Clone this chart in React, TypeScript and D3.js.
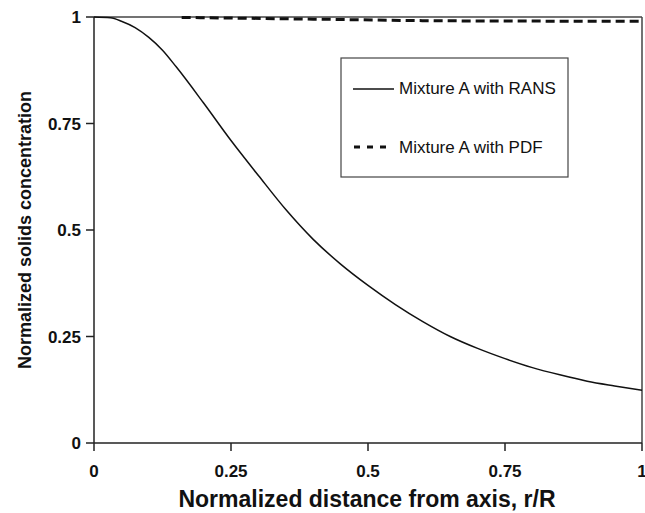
import React from "react";
import * as d3 from "d3";

const ransX = [0, 0.03, 0.05, 0.075, 0.1, 0.125, 0.15, 0.2, 0.25, 0.3, 0.35, 0.4, 0.45, 0.5, 0.55, 0.6, 0.65, 0.7, 0.75, 0.8, 0.85, 0.9, 0.95, 1.0];
const ransY = [1, 0.998, 0.99, 0.975, 0.952, 0.922, 0.883, 0.798, 0.71, 0.628, 0.548, 0.478, 0.42, 0.37, 0.325, 0.285, 0.25, 0.222, 0.198, 0.177, 0.16, 0.145, 0.134, 0.124];
const pdfX = [0.16, 0.4, 0.65, 1.0];
const pdfY = [0.999, 0.995, 0.991, 0.99];
const xTicks = [0, 0.25, 0.5, 0.75, 1];
const yTicks = [0, 0.25, 0.5, 0.75, 1];
const xTickLabels = ["0", "0.25", "0.5", "0.75", "1"];
const yTickLabels = ["0", "0.25", "0.5", "0.75", "1"];
const legendLabels = ["Mixture A with RANS", "Mixture A with PDF"];

const W = 645, H = 513;
const L = 94, R = 642, T = 17, B = 443;
const font = "Arial, 'Liberation Sans', sans-serif";

export default function App() {
  const x = d3.scaleLinear().domain([0, 1]).range([L, R]);
  const y = d3.scaleLinear().domain([0, 1]).range([B, T]);
  const line = d3.line<[number, number]>().x(d => x(d[0])).y(d => y(d[1])).curve(d3.curveMonotoneX);
  const rans = ransX.map((v, i) => [v, ransY[i]] as [number, number]);
  const pdf = pdfX.map((v, i) => [v, pdfY[i]] as [number, number]);
  return (
    <svg width={W} height={H} style={{ position: "absolute", left: 0, top: 0 }}>
      <rect x={0} y={0} width={W} height={H} fill="#fff" />
      <line x1={L} x2={R} y1={T} y2={T} stroke="#444" strokeWidth={1.5} />
      <line x1={R} x2={R} y1={T} y2={B} stroke="#444" strokeWidth={1.5} />
      <line x1={L} x2={L} y1={T} y2={B} stroke="#222" strokeWidth={1.5} />
      <line x1={L} x2={R} y1={B} y2={B} stroke="#222" strokeWidth={1.5} />
      {yTicks.map((t, i) => (
        <g key={"y" + i}>
          <line x1={L - 8} x2={L} y1={y(t)} y2={y(t)} stroke="#222" strokeWidth={1.5} />
          <text x={L - 13} y={y(t) + 6} textAnchor="end" fontFamily={font} fontWeight="bold" fontSize={17} fill="#111">{yTickLabels[i]}</text>
        </g>
      ))}
      {xTicks.map((t, i) => (
        <g key={"x" + i}>
          <line x1={x(t)} x2={x(t)} y1={B} y2={B + 8} stroke="#222" strokeWidth={1.5} />
          <text x={x(t)} y={477} textAnchor="middle" fontFamily={font} fontWeight="bold" fontSize={17} fill="#111">{xTickLabels[i]}</text>
        </g>
      ))}
      <text x={(L + R) / 2 - 1} y={507} textAnchor="middle" fontFamily={font} fontWeight="bold" fontSize={23} fill="#111">Normalized distance from axis, r/R</text>
      <text transform={`translate(31,${(T + B) / 2}) rotate(-90)`} textAnchor="middle" fontFamily={font} fontWeight="bold" fontSize={18} fill="#111">Normalized solids concentration</text>
      <path d={line(rans) || ""} fill="none" stroke="#111" strokeWidth={1.5} />
      <path d={line(pdf) || ""} fill="none" stroke="#111" strokeWidth={3} strokeDasharray="9,5" />
      <rect x={341} y={58} width={227} height={119} fill="#fff" stroke="#444" strokeWidth={1.2} />
      <line x1={353} x2={394} y1={89} y2={89} stroke="#111" strokeWidth={1.5} />
      <text x={399} y={94} fontFamily={font} fontSize={17} fill="#111">{legendLabels[0]}</text>
      <line x1={354} x2={393} y1={147} y2={147} stroke="#111" strokeWidth={3} strokeDasharray="6,7" />
      <text x={399} y={153} fontFamily={font} fontSize={17} fill="#111">{legendLabels[1]}</text>
    </svg>
  );
}
